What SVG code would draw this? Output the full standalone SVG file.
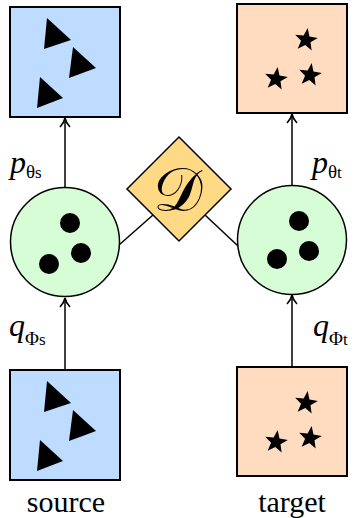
<svg xmlns="http://www.w3.org/2000/svg" xmlns:xlink="http://www.w3.org/1999/xlink" width="356" height="518" viewBox="0 0 356 518">
<defs>
<style>
.src{fill:#bddcff;stroke:#000;stroke-width:2}
.tgt{fill:#ffdcbf;stroke:#000;stroke-width:2}
.lat{fill:#d6fdd6;stroke:#000;stroke-width:1.5}
.disc{fill:#ffd983;stroke:#000;stroke-width:1.5}
.edge{stroke:#000;stroke-width:1.5;fill:none}
text{font-family:'Liberation Serif',serif;fill:#000}
.it{font-style:italic}
</style>
<marker id="arr" viewBox="0 0 12 12" refX="11" refY="6" markerWidth="12" markerHeight="12" markerUnits="userSpaceOnUse" orient="auto">
<path d="M2,1 Q6,5 11,6 Q6,7 2,11" fill="none" stroke="#000" stroke-width="1.6"/>
</marker>
<path id="star" d="M0,-12 L2.94,-4.05 L11.41,-3.71 L4.76,1.55 L7.05,9.71 L0,5 L-7.05,9.71 L-4.76,1.55 L-11.41,-3.71 L-2.94,-4.05 Z" fill="#000"/>
<g id="tris">
<polygon points="47,18 71,40 44,49"/>
<polygon points="73,47 96,68 69,78"/>
<polygon points="40,77 63,98 37,108"/>
</g>
<g id="stars">
<use xlink:href="#star" transform="translate(306,40) rotate(8)"/>
<use xlink:href="#star" transform="translate(310,75) rotate(8)"/>
<use xlink:href="#star" transform="translate(276,79) rotate(8)"/>
</g>
</defs>
<rect width="356" height="518" fill="#fff"/>
<g id="connectors">
<line class="edge" x1="65" y1="188" x2="65" y2="118" marker-end="url(#arr)"/>
<line class="edge" x1="292" y1="185" x2="292" y2="114" marker-end="url(#arr)"/>
<line class="edge" x1="65" y1="370" x2="65" y2="298" marker-end="url(#arr)"/>
<line class="edge" x1="292" y1="367" x2="292" y2="295" marker-end="url(#arr)"/>
<line class="edge" x1="153" y1="215" x2="119" y2="245"/>
<line class="edge" x1="205" y1="215" x2="238" y2="246"/>
</g>
<g id="source-recon">
<rect class="src" x="10" y="7" width="110" height="110"/>
<use xlink:href="#tris"/>
</g>
<g id="target-recon">
<rect class="tgt" x="237" y="4" width="110" height="109"/>
<use xlink:href="#stars"/>
</g>
<g id="source-latent">
<circle class="lat" cx="65" cy="242" r="54.5"/>
<circle cx="70" cy="223" r="10"/>
<circle cx="81" cy="253" r="10"/>
<circle cx="49" cy="264" r="10"/>
</g>
<g id="target-latent">
<circle class="lat" cx="292" cy="240" r="54.5"/>
<circle cx="299" cy="221" r="10"/>
<circle cx="309" cy="251" r="10"/>
<circle cx="277" cy="259" r="10"/>
</g>
<g id="discriminator">
<polygon class="disc" points="179,137 231,189 179,241 127,189"/>
<text x="177" y="211" font-size="62" text-anchor="middle">𝒟</text>
</g>
<g id="source-data">
<rect class="src" x="10" y="370" width="110" height="110"/>
<use xlink:href="#tris" transform="translate(0,363)"/>
</g>
<g id="target-data">
<rect class="tgt" x="237" y="367" width="110" height="109"/>
<use xlink:href="#stars" transform="translate(0,363)"/>
</g>
<g id="labels">
<text x="10" y="173" font-size="32"><tspan class="it">p</tspan><tspan font-size="19" dy="5">θ</tspan><tspan font-size="17">s</tspan></text>
<text x="312" y="173" font-size="32"><tspan class="it">p</tspan><tspan font-size="19" dy="5">θ</tspan><tspan font-size="17">t</tspan></text>
<text x="9" y="336" font-size="32"><tspan class="it">q</tspan><tspan font-size="19" dy="9">Φ</tspan><tspan font-size="17">s</tspan></text>
<text x="313" y="336" font-size="32"><tspan class="it">q</tspan><tspan font-size="19" dy="9">Φ</tspan><tspan font-size="17">t</tspan></text>
<text x="66" y="512" font-size="30" text-anchor="middle">source</text>
<text x="292" y="512" font-size="30" text-anchor="middle">target</text>
</g>
</svg>
